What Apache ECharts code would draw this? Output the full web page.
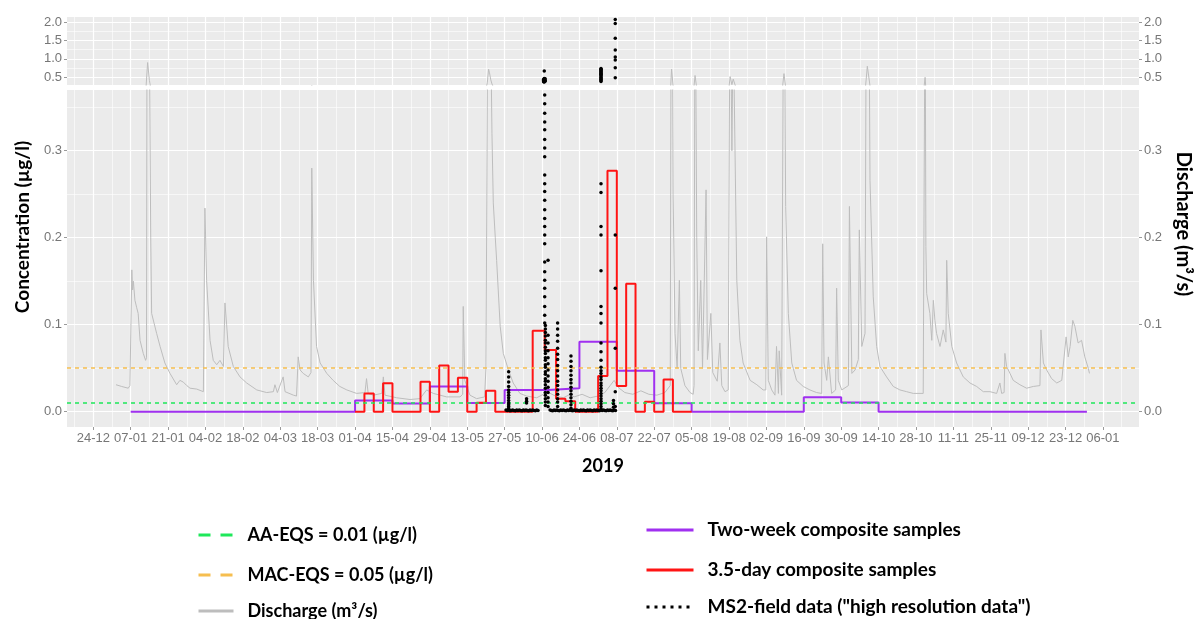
<!DOCTYPE html>
<html>
<head>
<meta charset="utf-8">
<script src="https://cdn.jsdelivr.net/npm/echarts@6/dist/echarts.min.js"></script>
<style>html,body{margin:0;padding:0;background:#fff}#chart{width:1200px;height:619px}</style>
</head>
<body>
<div id="chart"></div>
<script>
// ===================== DATA =====================
// x-axis tick dates (every 14 days) — labels shown as dd-mm
const xTickDates = ['2018-12-24','2019-01-07','2019-01-21','2019-02-04','2019-02-18','2019-03-04','2019-03-18',
  '2019-04-01','2019-04-15','2019-04-29','2019-05-13','2019-05-27','2019-06-10','2019-06-24','2019-07-08',
  '2019-07-22','2019-08-05','2019-08-19','2019-09-02','2019-09-16','2019-09-30','2019-10-14','2019-10-28',
  '2019-11-11','2019-11-25','2019-12-09','2019-12-23','2020-01-06'];
const yTicksBottom = [0, 0.1, 0.2, 0.3];
const yTicksTop = [0.5, 1.0, 1.5, 2.0];

const AA_EQS = 0.01;
const MAC_EQS = 0.05;

// Discharge (m3/s), times in 2019 as 'MM-DD HH'
const dischargeTimes = ['01-01 12','01-03 14','01-06 02','01-06 17','01-07 10','01-07 17','01-08 00','01-08 14','01-09 05','01-09 19',
 '01-10 12','01-11 17','01-12 14','01-12 22','01-13 08','01-14 00','01-14 12','01-14 20','01-16 17','01-18 00','01-19 19','01-21 17',
 '01-24 05','01-25 10','01-26 17','01-28 00','01-29 05','01-31 17','02-03 05','02-03 19','02-04 10','02-05 17','02-06 22','02-08 05',
 '02-09 10','02-10 17','02-11 07','02-11 22','02-12 12','02-14 10','02-16 22','02-19 10','02-23 05','02-26 22','03-01 10','03-02 00',
 '03-02 22','03-05 02','03-05 19','03-08 22','03-10 02','03-10 17','03-11 10','03-12 14','03-14 12','03-15 12','03-15 19','03-16 10',
 '03-17 14','03-18 22','03-21 10','03-23 19','03-26 07','03-28 22','04-01 14','04-04 17','04-05 07','04-05 22','04-07 19','04-11 00',
 '04-11 14','04-12 05','04-16 14','04-21 14','04-25 07','04-27 19','04-30 07','05-05 07','05-10 07','05-11 07','05-11 12','05-12 02',
 '05-14 00','05-16 12','05-19 12','05-20 00','05-20 12','05-21 00','05-21 08','05-21 18','05-22 06','05-22 18','05-23 12','05-24 00',
 '05-25 08','05-26 12','05-28 10','05-30 05','06-01 17','06-04 05','06-08 00','06-10 12','06-11 12','06-12 12','06-15 00','06-18 00',
 '06-20 12','06-22 00','06-25 00','06-28 00','07-01 00','07-03 12','07-05 12','07-07 00','07-08 12','07-11 00','07-14 00','07-17 00',
 '07-20 00','07-23 00','07-26 00','07-28 00','07-28 12','07-29 02','07-29 19','07-30 14','07-31 10','07-31 22','08-02 12','08-04 10',
 '08-05 14','08-05 22','08-06 07','08-06 22','08-07 12','08-08 10','08-09 02','08-10 10','08-10 22','08-12 05','08-12 22','08-14 14',
 '08-15 14','08-16 07','08-17 12','08-18 17','08-19 10','08-20 02','08-20 14','08-21 22','08-23 02','08-24 07','08-26 22','08-29 10',
 '08-31 19','09-01 19','09-02 02','09-02 17','09-04 00','09-05 05','09-05 19','09-06 12','09-06 19','09-07 17','09-08 14','09-09 05',
 '09-10 05','09-11 12','09-13 07','09-15 19','09-18 07','09-20 19','09-22 17','09-23 02','09-23 14','09-24 14','09-25 05','09-26 10',
 '09-27 22','09-28 07','09-28 22','09-30 05','10-02 17','10-03 02','10-04 00','10-05 05','10-06 10','10-06 19','10-07 17','10-08 22',
 '10-09 19','10-10 19','10-12 00','10-13 07','10-14 12','10-17 00','10-19 12','10-22 00','10-24 12','10-27 00','10-30 17','10-31 10',
 '10-31 17','11-01 00','11-02 05','11-02 22','11-03 12','11-04 02','11-04 17','11-06 00','11-07 05','11-08 05','11-08 12','11-09 02',
 '11-10 10','11-12 05','11-14 17','11-17 05','11-19 17','11-22 05','11-24 17','11-27 05','11-28 10','11-29 02','11-30 00','11-30 07',
 '11-30 22','12-02 05','12-03 10','12-05 22','12-08 10','12-10 22','12-13 10','12-13 19','12-14 17','12-15 22','12-17 19','12-19 17',
 '12-21 14','12-23 05','12-24 00','12-24 17','12-25 17','12-26 12','12-27 17','12-29 00','12-30 05','12-31 12','12-31 23'];
const dischargeValues = [0.031,0.029,0.027,0.030,0.163,0.140,0.150,0.128,0.120,0.113,
 0.082,0.067,0.059,0.062,0.90,0.42,0.20,0.113,0.090,0.075,0.056,0.044,
 0.031,0.036,0.034,0.030,0.027,0.026,0.023,0.234,0.151,0.082,0.059,0.054,
 0.059,0.052,0.125,0.100,0.075,0.052,0.040,0.033,0.025,0.022,0.023,0.031,
 0.022,0.040,0.023,0.019,0.018,0.063,0.048,0.044,0.040,0.045,0.280,0.151,
 0.075,0.056,0.044,0.036,0.029,0.025,0.021,0.022,0.038,0.021,0.019,0.021,
 0.040,0.019,0.016,0.014,0.015,0.025,0.021,0.017,0.017,0.020,0.121,0.036,
 0.019,0.015,0.017,0.050,0.350,0.720,0.620,0.450,0.320,0.240,0.200,0.174,
 0.098,0.067,0.048,0.033,0.021,0.018,0.016,0.020,0.030,0.022,0.018,0.016,
 0.020,0.017,0.020,0.016,0.018,0.022,0.030,0.036,0.028,0.022,0.020,0.024,
 0.020,0.019,0.022,0.030,0.720,0.250,0.090,0.050,0.151,0.050,0.030,0.022,
 0.020,0.030,0.550,0.200,0.070,0.151,0.050,0.255,0.060,0.113,0.045,0.035,
 0.079,0.030,0.023,0.025,0.520,0.300,0.450,0.151,0.082,0.056,0.036,0.031,
 0.025,0.025,0.201,0.036,0.025,0.019,0.075,0.021,0.070,0.019,0.600,0.236,
 0.113,0.056,0.036,0.029,0.025,0.022,0.021,0.193,0.056,0.036,0.063,0.021,
 0.025,0.142,0.036,0.025,0.030,0.236,0.044,0.048,0.060,0.209,0.075,0.090,
 0.800,0.266,0.132,0.075,0.052,0.040,0.029,0.025,0.023,0.021,0.021,0.500,
 0.190,0.136,0.113,0.082,0.128,0.105,0.090,0.075,0.094,0.080,0.174,0.113,
 0.075,0.056,0.040,0.033,0.029,0.023,0.023,0.021,0.033,0.021,0.022,0.067,
 0.052,0.044,0.036,0.031,0.027,0.029,0.030,0.094,0.056,0.048,0.038,0.033,
 0.036,0.086,0.063,0.075,0.105,0.098,0.079,0.082,0.063,0.050,0.044];

// Two-week composite samples (µg/l): start of each sample period, value
const twoWeekTimes  = ['01-07','04-01','04-15','04-29','05-13','05-27','06-12 06','06-24','07-08','07-22','08-05','09-16','09-30','10-14','12-31'];
const twoWeekValues = [0, 0.013, 0.0095, 0.029, 0.010, 0.025, 0.027, 0.0805, 0.047, 0.0096, 0, 0.0165, 0.0105, 0, 0];

// 3.5-day composite samples (µg/l)
const halfWeekTimes  = ['04-01','04-04 12','04-08','04-11 12','04-15','04-25 12','04-29','05-02 12','05-06','05-09 12','05-13',
  '05-16 12','05-20','05-23 12','06-06 12','06-11','06-15 06','06-18 18','06-22 10','07-01','07-04 12','07-08','07-11 12',
  '07-15','07-18 12','07-22','07-25 12','07-29','08-05'];
const halfWeekValues = [0, 0.021, 0, 0.0326, 0, 0.0345, 0, 0.053, 0.023, 0.039, 0,
  0.0103, 0.024, 0, 0.093, 0.071, 0.015, 0.012, 0, 0.041, 0.277, 0.0295, 0.147,
  0, 0.0115, 0, 0.037, 0, 0];

// MS2-field data (high resolution): event columns
const ms2ColTimes = ['05-28 12','06-04 05','06-10 14','06-10 20','06-11 00','06-11 04','06-11 06','06-12 06','06-15 20','06-20 20','07-02 02','07-06 18','07-07 10'];
const ms2ColValues = [
  [0.046,0.040,0.034,0.029,0.025,0.022,0.019,0.016,0.013,0.010,0.008,0.006,0.004],
  [0.015,0.012,0.010],
  [0.44,0.41,0.38],
  [0.67,0.47,0.45,0.43,0.415,0.40,0.385,0.375],
  [0.364,0.354,0.343,0.333,0.324,0.313,0.303,0.293,0.272,0.262,0.253,0.243,0.232,0.222,0.213,0.203,0.193,0.172,0.161,0.151,0.142,0.132,0.121,0.111,0.102],
  [0.46,0.42,0.39],
  [0.099,0.095,0.091,0.087,0.082,0.079,0.074,0.070,0.067,0.062,0.059,0.054,0.051,0.046,0.043,0.038,0.035,0.031,0.027,0.022,0.019,0.015,0.011,0.007],
  [0.174,0.088,0.079,0.070,0.062,0.055,0.048,0.041,0.035,0.028,0.022,0.016,0.011,0.006],
  [0.102,0.095,0.088,0.081,0.073,0.066,0.060,0.053,0.047,0.041,0.035,0.030,0.025,0.020,0.015,0.011,0.006],
  [0.064,0.058,0.052,0.047,0.042,0.037,0.033,0.028,0.024,0.020,0.016,0.012,0.008,0.004],
  [0.74,0.72,0.70,0.68,0.655,0.63,0.61,0.585,0.56,0.54,0.51,0.49,0.46,0.44,0.41,0.385,
   0.262,0.252,0.213,0.203,0.162,0.121,0.113,0.102,0.079,0.069,0.059,0.051,0.047,0.044,0.040,0.037,0.033,0.030,0.027,0.024,0.021,0.018,0.015,0.012,0.009,0.006,0.003],
  [0.013,0.009,0.005],
  [2.07,1.96,1.56,1.24,1.05,0.97,0.76,0.49,0.203,0.142,0.073,0.023,0.006]
];
// MS2 near-zero baseline measurements
const ms2BaseTimes = ['05-27 12','05-28 00','05-28 12','05-29 00','05-29 12','05-30 00','05-30 12','05-31 00','05-31 12','06-01 00',
 '06-01 12','06-02 00','06-02 12','06-03 00','06-03 12','06-04 00','06-04 12','06-05 00','06-05 12','06-06 00','06-06 12','06-07 00',
 '06-07 12','06-08 00','06-08 12','06-13 00','06-13 12','06-14 00','06-14 12','06-15 00','06-15 12','06-16 00','06-16 12','06-17 00',
 '06-17 12','06-18 00','06-18 12','06-19 00','06-19 12','06-20 00','06-20 12','06-21 00','06-21 12','06-22 00','06-22 12','06-23 00',
 '06-23 12','06-24 00','06-24 12','06-25 00','06-25 12','06-26 00','06-26 12','06-27 00','06-27 12','06-28 00','06-28 12','06-29 00',
 '06-29 12','06-30 00','06-30 12','07-01 00','07-01 12','07-02 00','07-02 12','07-03 00','07-03 12','07-04 00','07-04 12','07-05 00',
 '07-05 12','07-06 00','07-06 12','07-07 00','07-07 12'];
const ms2BaseValues = [0.002,0.0015,0.002,0.001,0.0015,0.002,0.0015,0.001,0.002,0.0015,
 0.002,0.0015,0.001,0.002,0.0015,0.002,0.0015,0.001,0.002,0.0015,0.002,0.0015,
 0.001,0.002,0.0015,0.002,0.0015,0.001,0.002,0.0015,0.002,0.0015,0.001,0.002,
 0.0015,0.002,0.0015,0.001,0.002,0.0015,0.002,0.0015,0.001,0.002,0.0015,0.002,
 0.0015,0.001,0.002,0.0015,0.002,0.0015,0.001,0.002,0.0015,0.002,0.0015,0.001,
 0.002,0.0015,0.002,0.0015,0.001,0.002,0.0015,0.002,0.0015,0.001,0.002,0.0015,
 0.002,0.0015,0.001,0.002,0.0015];

// ===================== HELPERS =====================
const T0 = Date.UTC(2019, 0, 1);
function day(s) {
  const parts = s.split(' ');
  const dp = parts[0].split('-').map(Number);
  let y = 2019, m, d;
  if (dp.length === 3) { [y, m, d] = dp; } else { [m, d] = dp; }
  const h = parts[1] ? Number(parts[1]) : 0;
  return (Date.UTC(y, m - 1, d, h) - T0) / 86400000;
}
function fmtDate(v) {
  const dt = new Date(T0 + Math.round(v * 24) * 3600000);
  const dd = String(dt.getUTCDate()).padStart(2, '0');
  const mm = String(dt.getUTCMonth() + 1).padStart(2, '0');
  return dd + '-' + mm;
}
const pairs = (ts, vs) => ts.map((t, i) => [day(t), vs[i]]);

const dischargeData = pairs(dischargeTimes, dischargeValues);
const twoWeekData = pairs(twoWeekTimes, twoWeekValues);
const halfWeekData = pairs(halfWeekTimes, halfWeekValues);
const ms2All = [];
ms2ColTimes.forEach((t, i) => ms2ColValues[i].forEach(v => ms2All.push([day(t), v])));
ms2BaseTimes.forEach((t, i) => ms2All.push([day(t), ms2BaseValues[i]]));

// ===================== LAYOUT / STYLE =====================
const X_MIN = -17.85, X_MAX = 383.5;
const TOP_MIN = 0.2913, TOP_MAX = 2.1356;
const BOT_MIN = -0.0176, BOT_MAX = 0.3698;
const ms2Top = ms2All.filter(p => p[1] > BOT_MAX);
const ms2Bottom = ms2All.filter(p => p[1] <= BOT_MAX);

const majorX = xTickDates.map(day);
const minorX = [majorX[0] - 7].concat(majorX.map(v => v + 7)).filter(v => v > X_MIN && v < X_MAX);
const minorYBottom = [0.05, 0.15, 0.25, 0.35];
const minorYTop = [0.75, 1.25, 1.75];

const GREEN = '#1EE85A', ORANGE = '#F6BE4F', GREY = '#BDBDBD', PURPLE = '#A030F0', RED = '#FF1414';
const TICK_TXT = { color: '#767676', fontSize: 13, fontFamily: 'Liberation Sans, Arial, sans-serif' };
const TITLE_FONT = { fontFamily: 'Lato', fontWeight: 'bold', color: '#000' };

const NAME_AA = 'AA-EQS = 0.01 (µg/l)';
const NAME_MAC = 'MAC-EQS = 0.05 (µg/l)';
const NAME_Q = 'Discharge (m³/s)';
const NAME_TW = 'Two-week composite samples';
const NAME_HW = '3.5-day composite samples';
const NAME_MS2 = 'MS2-field data ("high resolution data")';

function xAx(grid, ticks, major, labels) {
  return {
    gridIndex: grid, type: 'value', min: X_MIN, max: X_MAX,
    axisLine: { show: false, onZero: false },
    axisTick: { show: labels, customValues: ticks, length: 3, lineStyle: { color: '#9a9a9a' } },
    axisLabel: { show: labels, customValues: ticks, formatter: fmtDate, margin: 5, ...TICK_TXT },
    splitLine: { show: true, lineStyle: { color: '#fff', width: major ? 1.2 : 0.6 } }
  };
}
function yAx(grid, min, max, ticks, major, pos, labels) {
  return {
    gridIndex: grid, type: 'value', min: min, max: max, position: pos,
    axisLine: { show: false, onZero: false },
    axisTick: { show: labels, customValues: ticks, length: 3, lineStyle: { color: '#9a9a9a' } },
    axisLabel: { show: labels, customValues: ticks, formatter: v => v.toFixed(1), margin: 5, ...TICK_TXT },
    splitLine: { show: pos === 'left', lineStyle: { color: '#fff', width: major ? 1.2 : 0.6 } }
  };
}

const xAxes = [xAx(0, majorX, true, false), xAx(0, minorX, false, false), xAx(1, majorX, true, true), xAx(1, minorX, false, false)];
Object.assign(xAxes[2], { name: '2019', nameLocation: 'middle', nameGap: 30, nameTextStyle: { ...TITLE_FONT, fontSize: 18 } });
const yAxes = [
  yAx(0, TOP_MIN, TOP_MAX, yTicksTop, true, 'left', true),
  yAx(0, TOP_MIN, TOP_MAX, minorYTop, false, 'left', false),
  yAx(0, TOP_MIN, TOP_MAX, yTicksTop, true, 'right', true),
  yAx(1, BOT_MIN, BOT_MAX, yTicksBottom, true, 'left', true),
  yAx(1, BOT_MIN, BOT_MAX, minorYBottom, false, 'left', false),
  yAx(1, BOT_MIN, BOT_MAX, yTicksBottom, true, 'right', true)
];

const B = { xAxisIndex: 2, yAxisIndex: 3 };
const T = { xAxisIndex: 0, yAxisIndex: 0 };
function hline(name, val, color) {
  const ls = { color, type: [4, 4], width: 1.5, opacity: 1 };
  return {
    name, type: 'line', ...B, data: [], symbol: 'none', z: 6,
    lineStyle: ls, itemStyle: { color },
    markLine: { silent: true, symbol: 'none', label: { show: false }, animation: false,
      lineStyle: ls, emphasis: { disabled: true }, data: [{ yAxis: val, lineStyle: ls }] }
  };
}
function ms2Series(axes, data) {
  return { name: NAME_MS2, type: 'line', ...axes, data, symbol: 'circle', symbolSize: 3.5, showSymbol: true, showAllSymbol: true,
    lineStyle: { width: 0, opacity: 0 }, itemStyle: { color: '#000' }, z: 5, silent: true };
}
function qSeries(axes) {
  return { name: NAME_Q, type: 'line', ...axes, data: dischargeData, symbol: 'none', z: 2, silent: true,
    lineStyle: { color: GREY, width: 1 }, itemStyle: { color: GREY } };
}

function legendItem(left, top, width, fontSize, name, lineStyle) {
  return { orient: 'vertical', left, top, padding: 0, itemWidth: width, itemHeight: 14, selectedMode: false,
    textStyle: { ...TITLE_FONT, fontSize, lineHeight: 20, padding: [0, 0, 0, 9] },
    data: [{ name, itemStyle: { opacity: 0 }, lineStyle: Object.assign({ width: 3, opacity: 1, type: 'solid' }, lineStyle) }] };
}

const option = {
  animation: false,
  grid: [
    { left: 67, right: 61, top: 17, height: 68, show: true, backgroundColor: '#EBEBEB', borderWidth: 0 },
    { left: 67, right: 61, top: 90, height: 337, show: true, backgroundColor: '#EBEBEB', borderWidth: 0 }
  ],
  xAxis: xAxes,
  yAxis: yAxes,
  legend: [
    legendItem(197, 525, 35, 18, NAME_AA, { color: GREEN, type: [12, 10] }),
    legendItem(197, 565, 35, 18, NAME_MAC, { color: ORANGE, type: [12, 10] }),
    legendItem(197, 601, 35, 18, NAME_Q, { color: GREY }),
    legendItem(645, 520, 47, 19, NAME_TW, { color: PURPLE }),
    legendItem(645, 560, 47, 19, NAME_HW, { color: RED }),
    legendItem(645, 597, 47, 19, NAME_MS2, { color: '#000', type: [3, 5] })
  ],
  graphic: [
    { type: 'text', x: 23, y: 227, rotation: Math.PI / 2, silent: true,
      style: { text: 'Concentration (µg/l)', fontFamily: 'Lato', fontWeight: 'bold', fontSize: 19, fill: '#000', align: 'center', verticalAlign: 'middle' } },
    { type: 'text', x: 1183, y: 224, rotation: -Math.PI / 2, silent: true,
      style: { text: 'Discharge (m³/s)', fontFamily: 'Lato', fontWeight: 'bold', fontSize: 20, fill: '#000', align: 'center', verticalAlign: 'middle' } }
  ],
  series: [
    qSeries(B),
    qSeries(T),
    { name: NAME_TW, type: 'line', ...B, step: 'end', data: twoWeekData, symbol: 'none', z: 3,
      lineStyle: { color: PURPLE, width: 2 }, itemStyle: { color: PURPLE } },
    { name: NAME_HW, type: 'line', ...B, step: 'end', data: halfWeekData, symbol: 'none', z: 4,
      lineStyle: { color: RED, width: 2 }, itemStyle: { color: RED } },
    ms2Series(B, ms2Bottom),
    ms2Series(T, ms2Top),
    hline(NAME_AA, AA_EQS, GREEN),
    hline(NAME_MAC, MAC_EQS, ORANGE)
  ]
};
const chart = echarts.init(document.getElementById('chart'), null, { renderer: 'canvas' });
chart.setOption(option);
</script>
</body>
</html>
